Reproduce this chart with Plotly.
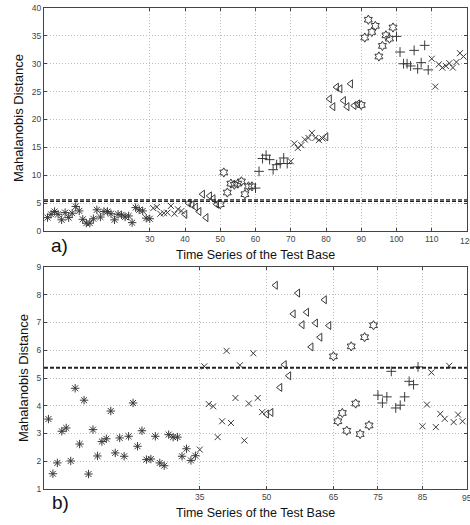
import plotly.graph_objects as go

# ---------------- data: panel a) ----------------
a_x_tick_vals = [30, 40, 50, 60, 70, 80, 90, 100, 110, 120]
a_y_tick_vals = [0, 5, 10, 15, 20, 25, 30, 35, 40]
a_threshold = [5.3, 5.6]

a_normal = [2.4, 3.0, 3.5, 3.0, 2.0, 3.3, 2.4, 3.2, 4.4, 3.6, 2.1, 1.4, 1.4, 2.2, 3.8,
            2.5, 3.5, 3.5, 3.1, 2.0, 3.0, 2.9, 2.5, 2.7, 1.5, 4.2, 3.8, 3.6, 2.3, 2.2]
a_x1 = [4.1, 4.3, 3.1, 3.2, 3.3, 4.5, 3.1, 3.9, 3.6]
a_tri1 = [3.0, 5.0, 4.7, 4.3, 3.5, 6.6, 2.4, 6.3, 5.8, 4.8]
a_hex1 = [4.8, 10.5, 6.9, 8.5, 8.3, 8.5, 8.9, 6.6, 8.0, 8.0]
a_plus1 = [7.7, 10.7, 13.0, 13.6, 12.8, 11.0, 11.9, 12.1, 13.1, 12.1]
a_x2 = [12.5, 15.7, 14.9, 15.4, 16.4, 16.7, 17.6, 16.7, 16.3, 16.6]
a_tri2 = [16.9, 23.7, 22.3, 25.8, 25.5, 23.4, 22.3, 26.4, 22.5, 22.8]
a_hex2 = [22.6, 34.7, 37.9, 35.7, 36.8, 31.3, 33.2, 35.1, 34.5, 36.5]
a_plus2 = [34.9, 32.1, 30.0, 30.0, 29.6, 32.4, 29.1, 30.2, 33.3, 28.9]
a_x3 = [30.9, 25.9, 29.9, 29.3, 29.6, 30.1, 29.3, 30.3, 31.9, 31.3]

# ---------------- data: panel b) ----------------
b_x_tick_vals = [35, 50, 65, 75, 85, 95]
b_y_tick_vals = [1, 2, 3, 4, 5, 6, 7, 8, 9]
b_threshold = [5.37]

b_normal = [3.52, 1.55, 1.94, 3.08, 3.20, 2.01, 4.63, 2.62, 4.20, 1.54, 3.14, 2.19,
            2.71, 2.81, 3.81, 2.30, 2.84, 2.18, 2.90, 4.10, 2.54, 3.10, 2.06, 2.08,
            2.90, 1.94, 1.84, 2.96, 2.87, 2.87, 2.18, 2.45, 2.03, 2.20]
b_x1 = [2.42, 5.42, 4.06, 3.98, 2.87, 3.44, 5.98, 3.38, 4.28, 5.46, 2.75, 4.08, 5.89, 4.28, 3.77]
b_tri = [3.70, 3.76, 8.34, 4.66, 5.48, 5.08, 7.31, 8.06, 6.92, 7.37, 6.12, 6.98, 6.47, 7.82, 6.89]
b_hex = [5.78, 3.44, 3.74, 3.10, 6.14, 4.08, 2.98, 6.47, 3.29, 6.90]
b_plus = [4.38, 4.10, 4.32, 5.24, 3.92, 4.02, 4.32, 4.88, 4.76, 5.40]
b_x2 = [3.26, 4.04, 5.20, 3.23, 3.71, 3.53, 5.44, 3.41, 3.68, 3.44]

X_TITLE = "Time Series of the Test Base"
Y_TITLE = "Mahalanobis Distance"

MARK = "#3a3a3a"
FONT = "Liberation Sans, Arial"
SYMBOLS = {
    "normal": ("asterisk-open", 7),
    "x": ("x-thin-open", 6),
    "tri": ("triangle-left-open", 7),
    "hex": ("hexagram-open", 7),
    "plus": ("cross-thin-open", 7),
}

fig = go.Figure()


def add_groups(groups, xa, ya, start):
    pos = start
    for kind, vals in groups:
        sym, size = SYMBOLS[kind]
        xs = list(range(pos, pos + len(vals)))
        pos += len(vals)
        fig.add_trace(go.Scatter(
            x=xs, y=vals, mode="markers", xaxis=xa, yaxis=ya, showlegend=False,
            marker=dict(symbol=sym, size=size, color=MARK,
                        line=dict(color=MARK, width=1)),
        ))


add_groups([("normal", a_normal), ("x", a_x1), ("tri", a_tri1), ("hex", a_hex1),
            ("plus", a_plus1), ("x", a_x2), ("tri", a_tri2), ("hex", a_hex2),
            ("plus", a_plus2), ("x", a_x3)], "x", "y", 1)
add_groups([("normal", b_normal), ("x", b_x1), ("tri", b_tri), ("hex", b_hex),
            ("plus", b_plus), ("x", b_x2)], "x2", "y2", 1)

# threshold lines
for t in a_threshold:
    fig.add_trace(go.Scatter(x=[0, 120], y=[t, t], mode="lines", xaxis="x", yaxis="y",
                             showlegend=False, line=dict(color="#222", width=1.2, dash="4px,2px")))
for t in b_threshold:
    fig.add_trace(go.Scatter(x=[0, 95], y=[t, t], mode="lines", xaxis="x2", yaxis="y2",
                             showlegend=False, line=dict(color="#222", width=1.8, dash="4px,2px")))

H = 525
T, B = 8, 36
PH = H - T - B
top_dom = [1 - (231 - T) / PH, 1]
bot_dom = [0, (489 - 267) / PH]

axis_common = dict(
    showline=True, linecolor="#444", linewidth=1, mirror="ticks",
    ticks="inside", ticklen=3, tickcolor="#444",
    showgrid=True, gridcolor="#bdbdbd", griddash="1px,2px", gridwidth=1,
    zeroline=False, tickfont=dict(family=FONT, size=8.5, color="#444"),
)

fig.update_layout(
    width=470, height=525,
    margin=dict(l=44, r=3, t=T, b=B),
    paper_bgcolor="white", plot_bgcolor="white",
    xaxis=dict(domain=[0, 1], range=[0, 120], tickvals=a_x_tick_vals, anchor="y", **axis_common),
    yaxis=dict(domain=top_dom, range=[0, 40], tickvals=a_y_tick_vals, anchor="x", **axis_common),
    xaxis2=dict(domain=[0, 1], range=[0, 95], tickvals=b_x_tick_vals, anchor="y2", **axis_common),
    yaxis2=dict(domain=bot_dom, range=[1, 9], tickvals=b_y_tick_vals, anchor="x2", **axis_common),
    font=dict(family=FONT),
)


def px_x(px):
    return (px - 44) / (470 - 44 - 3)


def px_y(py):
    return 1 - (py - T) / PH


# edge tick labels that plotly drops (the last tick of each x axis)
fig.add_annotation(text=str(a_x_tick_vals[-1]), x=a_x_tick_vals[-1], y=px_y(240.5), xref="x", yref="paper",
                   showarrow=False, xanchor="center", yanchor="middle",
                   font=dict(size=8.5, color="#444", family=FONT))
fig.add_annotation(text=str(b_x_tick_vals[-1]), x=b_x_tick_vals[-1], y=px_y(498.5), xref="x2", yref="paper",
                   showarrow=False, xanchor="center", yanchor="middle",
                   font=dict(size=8.5, color="#444", family=FONT))

ann = [
    dict(text="a)", x=px_x(59), y=px_y(245), size=19),
    dict(text="b)", x=px_x(60), y=px_y(502), size=19),
    dict(text=X_TITLE, x=px_x(255.5), y=px_y(255), size=12.5),
    dict(text=X_TITLE, x=px_x(255.5), y=px_y(513), size=12.5),
]
for a in ann:
    fig.add_annotation(text=a["text"], x=a["x"], y=a["y"], xref="paper", yref="paper",
                       showarrow=False, xanchor="center", yanchor="middle",
                       font=dict(size=a["size"], color="#111", family=FONT))
for xp, yp in [(18, 118), (23, 378)]:
    fig.add_annotation(text=Y_TITLE, x=px_x(xp), y=px_y(yp), xref="paper", yref="paper",
                       showarrow=False, textangle=-90, xanchor="center", yanchor="middle",
                       font=dict(size=13, color="#111", family=FONT))

fig.write_html("out.html")
